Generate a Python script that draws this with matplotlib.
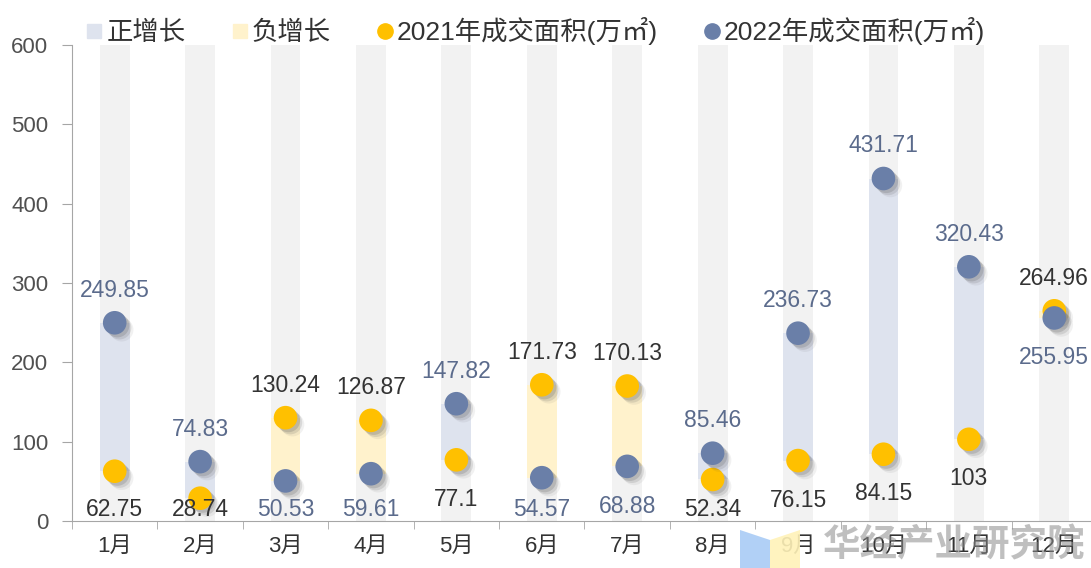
import matplotlib
matplotlib.use('Agg')
from matplotlib import pyplot as plt
from matplotlib import patheffects as pe
from matplotlib.lines import Line2D
from matplotlib.patches import Polygon
import numpy as np

plt.rcParams['font.family'] = ['Liberation Sans', 'Noto Sans CJK SC', 'DejaVu Sans']

months = ['1月', '2月', '3月', '4月', '5月', '6月', '7月', '8月', '9月', '10月', '11月', '12月']
area_2021 = [62.75, 28.74, 130.24, 126.87, 77.1, 171.73, 170.13, 52.34, 76.15, 84.15, 103, 264.96]
area_2022 = [249.85, 74.83, 50.53, 59.61, 147.82, 54.57, 68.88, 85.46, 236.73, 431.71, 320.43, 255.95]
labels_2021 = ['62.75', '28.74', '130.24', '126.87', '77.1', '171.73', '170.13', '52.34', '76.15', '84.15', '103', '264.96']
labels_2022 = ['249.85', '74.83', '50.53', '59.61', '147.82', '54.57', '68.88', '85.46', '236.73', '431.71', '320.43', '255.95']

c21 = '#FFC000'
c22 = '#6A7FA8'
pos_c = '#DEE3EE'
neg_c = '#FFF2CC'
bg_c = '#F2F2F2'

fig = plt.figure(figsize=(10.91, 5.68), dpi=100)
ax = fig.add_axes([72 / 1091, 47 / 568, 1025 / 1091, 476 / 568])

x = np.arange(len(months))
w = 0.35
ax.bar(x, [600] * len(x), width=w, color=bg_c, zorder=1)
lo = np.minimum(area_2021, area_2022)
hi = np.maximum(area_2021, area_2022)
cols = [pos_c if b > a else neg_c for a, b in zip(area_2021, area_2022)]
ax.bar(x, hi - lo, bottom=lo, width=w, color=cols, zorder=2)

# soft drop shadow under the dots
shadow = [pe.SimplePatchShadow(offset=(5, -5), shadow_rgbFace='#555555', alpha=0.08),
          pe.SimplePatchShadow(offset=(3.5, -3.5), shadow_rgbFace='#555555', alpha=0.15),
          pe.SimplePatchShadow(offset=(2, -2), shadow_rgbFace='#555555', alpha=0.2),
          pe.Normal()]
ax.plot(x, area_2021, 'o', ms=17, color=c21, mec='none', zorder=4, path_effects=shadow)
ax.plot(x, area_2022, 'o', ms=17, color=c22, mec='none', zorder=5, path_effects=shadow)

up_off, down_off, floor = 41, 50, 14
for i in range(len(x)):
    a, b = area_2021[i], area_2022[i]
    if a >= b:
        ya, yb = a + up_off, max(b - down_off, floor)
    else:
        ya, yb = max(a - down_off, floor), b + up_off
    ax.text(x[i], ya, labels_2021[i], ha='center', va='center', fontsize=16.5,
            color='#333333', zorder=6)
    ax.text(x[i], yb, labels_2022[i], ha='center', va='center', fontsize=16.5,
            color='#5B6B8C', zorder=6)

ax.set_xlim(-0.5, len(x) - 0.5)
ax.set_ylim(0, 600)
ax.set_yticks(range(0, 601, 100))
ax.set_xticks(x)
ax.set_xticklabels(months)
ax.set_xticks(np.arange(-0.5, len(x), 1), minor=True)
ax.tick_params(axis='x', which='major', length=0, labelsize=16, colors='#333333', pad=11)
ax.tick_params(axis='x', which='minor', length=6, color='#A6A6A6')
ax.tick_params(axis='y', length=7, color='#A6A6A6', labelsize=16, labelcolor='#505050', pad=10)
for s in ['top', 'right']:
    ax.spines[s].set_visible(False)
ax.spines['left'].set_color('#A6A6A6')
ax.spines['bottom'].set_color('#A6A6A6')

handles = [
    Line2D([], [], marker='s', ls='none', color=pos_c, ms=10),
    Line2D([], [], marker='s', ls='none', color=neg_c, ms=10),
    Line2D([], [], marker='o', ls='none', color=c21, ms=11),
    Line2D([], [], marker='o', ls='none', color=c22, ms=11),
]
names = ['正增长', '负增长', '2021年成交面积(万㎡)', '2022年成交面积(万㎡)']
fig.legend(handles, names, loc='center left', bbox_to_anchor=(72 / 1091, 1 - 31 / 568),
           ncol=4, frameon=False, fontsize=19, handletextpad=0.1, columnspacing=1.7,
           handlelength=0.7, borderpad=0, labelcolor='#333333')

# watermark logo
fig.patches.append(Polygon([(740, 530), (770, 540), (770, 568), (740, 568)], closed=True,
                           facecolor='#A9CBF5', alpha=0.9, zorder=0))
fig.patches.append(Polygon([(770, 540), (800, 530), (800, 568), (770, 568)], closed=True,
                           facecolor='#FFF2B8', alpha=0.9, zorder=0))
for p in fig.patches:
    p.set_transform(matplotlib.transforms.Affine2D().scale(1, -1).translate(0, 568))
fig.text(1085 / 1091, 1 - 546 / 568, '华经产业研究院', fontsize=27, fontweight='bold',
         color='#8C8C8C', alpha=0.55, ha='right', va='center')

fig.savefig('out.png', dpi=100)
